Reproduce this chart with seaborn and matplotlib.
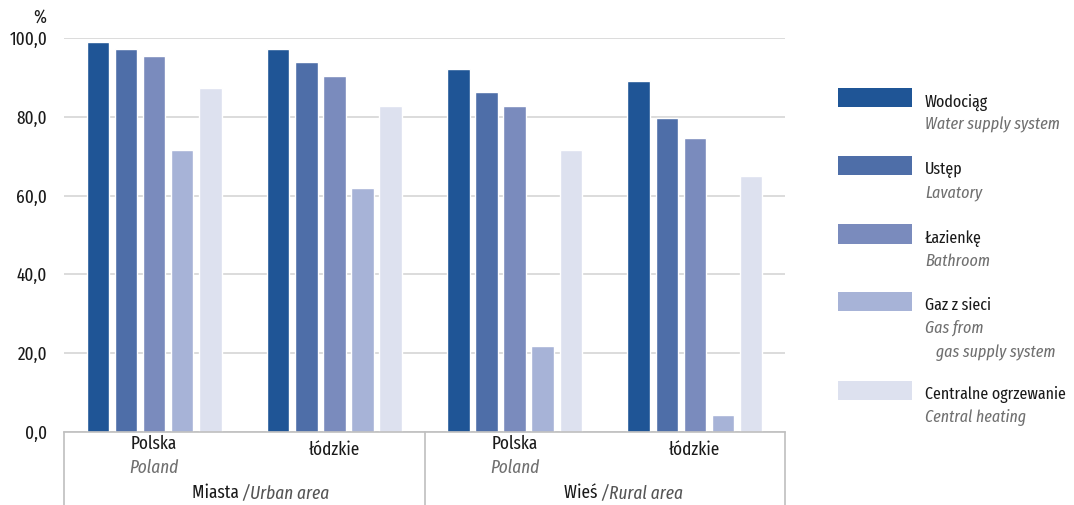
import matplotlib
matplotlib.use("Agg")
import matplotlib.pyplot as plt
import matplotlib.transforms as mtransforms
from matplotlib.patches import Rectangle
import pandas as pd
import seaborn as sns

# data
groups = ["Miasta|Polska", "Miasta|łódzkie", "Wieś|Polska", "Wieś|łódzkie"]
amenities = ["Wodociąg", "Ustęp", "Łazienkę", "Gaz z sieci", "Centralne ogrzewanie"]
amenities_en = [["Water supply system"], ["Lavatory"], ["Bathroom"],
                ["Gas from", "   gas supply system"], ["Central heating"]]
wodociag = [99.0, 97.2, 92.1, 89.1]
ustep = [97.2, 93.9, 86.3, 79.7]
lazienka = [95.4, 90.4, 82.7, 74.6]
gaz = [71.6, 61.9, 21.8, 4.3]
co = [87.3, 82.7, 71.6, 65.0]
colors = ["#1F5596", "#4E6EA8", "#7A8BBD", "#A7B3D7", "#DDE1EF"]

FS = 13.5      # axis texts
FS_LEG = 12.5  # legend texts
DARK = "#1a1a1a"
GREY = "#707070"

sns.set_theme(style="white")
plt.rcParams["font.family"] = ["Fira Sans Extra Condensed", "Fira Sans Condensed",
                               "Roboto Condensed", "DejaVu Sans"]

rows = []
for name, vals in zip(amenities, [wodociag, ustep, lazienka, gaz, co]):
    for g, v in zip(groups, vals):
        rows.append({"group": g, "amenity": name, "value": v})
df = pd.DataFrame(rows)

fig = plt.figure(figsize=(10.74, 5.05), dpi=100)
ax = fig.add_axes([64 / 1074, 73 / 505, 721 / 1074, 394 / 505])

sns.barplot(data=df, x="group", y="value", hue="amenity", order=groups,
            hue_order=amenities, palette=colors, saturation=1, width=0.78,
            gap=0.2, legend=False, ax=ax)

ax.set_ylim(0, 100)
ax.set_xlim(-0.5, 3.5)
ax.set_yticks(range(0, 101, 20))
ax.set_yticklabels([f"{v:.1f}".replace(".", ",") for v in range(0, 101, 20)],
                   fontsize=FS, color=DARK)
ax.tick_params(axis="y", length=0, pad=12)
ax.set_xticks([])
ax.set_xlabel("")
ax.set_ylabel("")
ax.yaxis.grid(True, color="#D6D6D6", linewidth=1.2)
ax.set_axisbelow(True)
for s in ["top", "right", "left"]:
    ax.spines[s].set_visible(False)
ax.spines["bottom"].set_color("#BFBFBF")
ax.spines["bottom"].set_linewidth(1.2)

fig.text(40 / 1074, 1 - 17 / 505, "%", fontsize=FS, color=DARK,
         ha="center", va="center")

# multi-level category axis
trans = mtransforms.blended_transform_factory(ax.transData, ax.transAxes)
for xv in [-0.5, 1.5, 3.5]:
    ax.plot([xv, xv], [0, -0.19], transform=trans, color="#BFBFBF",
            linewidth=1.2, clip_on=False)

for i, g in enumerate(groups):
    region = g.split("|")[1]
    if region == "Polska":
        ax.text(i, -0.03, "Polska", transform=trans, ha="center", va="center",
                fontsize=FS, color=DARK)
        ax.text(i, -0.09, "Poland", transform=trans, ha="center", va="center",
                fontsize=FS, color=GREY, style="italic")
    else:
        ax.text(i, -0.045, "łódzkie", transform=trans, ha="center", va="center",
                fontsize=FS, color=DARK)

for xc, pl, en in [(0.49, "Miasta", "/Urban area"), (2.48, "Wieś", "/Rural area")]:
    ax.text(xc, -0.155, pl + " ", transform=trans, ha="right", va="center",
            fontsize=FS, color=DARK)
    ax.text(xc, -0.155, en, transform=trans, ha="left", va="center",
            fontsize=FS, color="#555555", style="italic")

# legend
leg_y = [97.5, 165.5, 234, 301, 390]
for y, c, pl, en in zip(leg_y, colors, amenities, amenities_en):
    fig.patches.append(Rectangle((838 / 1074, 1 - (y + 9.5) / 505), 74 / 1074,
                                 19 / 505, transform=fig.transFigure,
                                 facecolor=c, edgecolor="none"))
    fig.text(925 / 1074, 1 - (y + 9) / 505, pl, fontsize=FS_LEG, color=DARK,
             va="baseline", ha="left")
    for k, line in enumerate(en):
        fig.text(925 / 1074, 1 - (y + 32 + 24 * k) / 505, line, fontsize=FS_LEG,
                 color=GREY, va="baseline", ha="left", style="italic")

fig.savefig("out.png", dpi=100)
